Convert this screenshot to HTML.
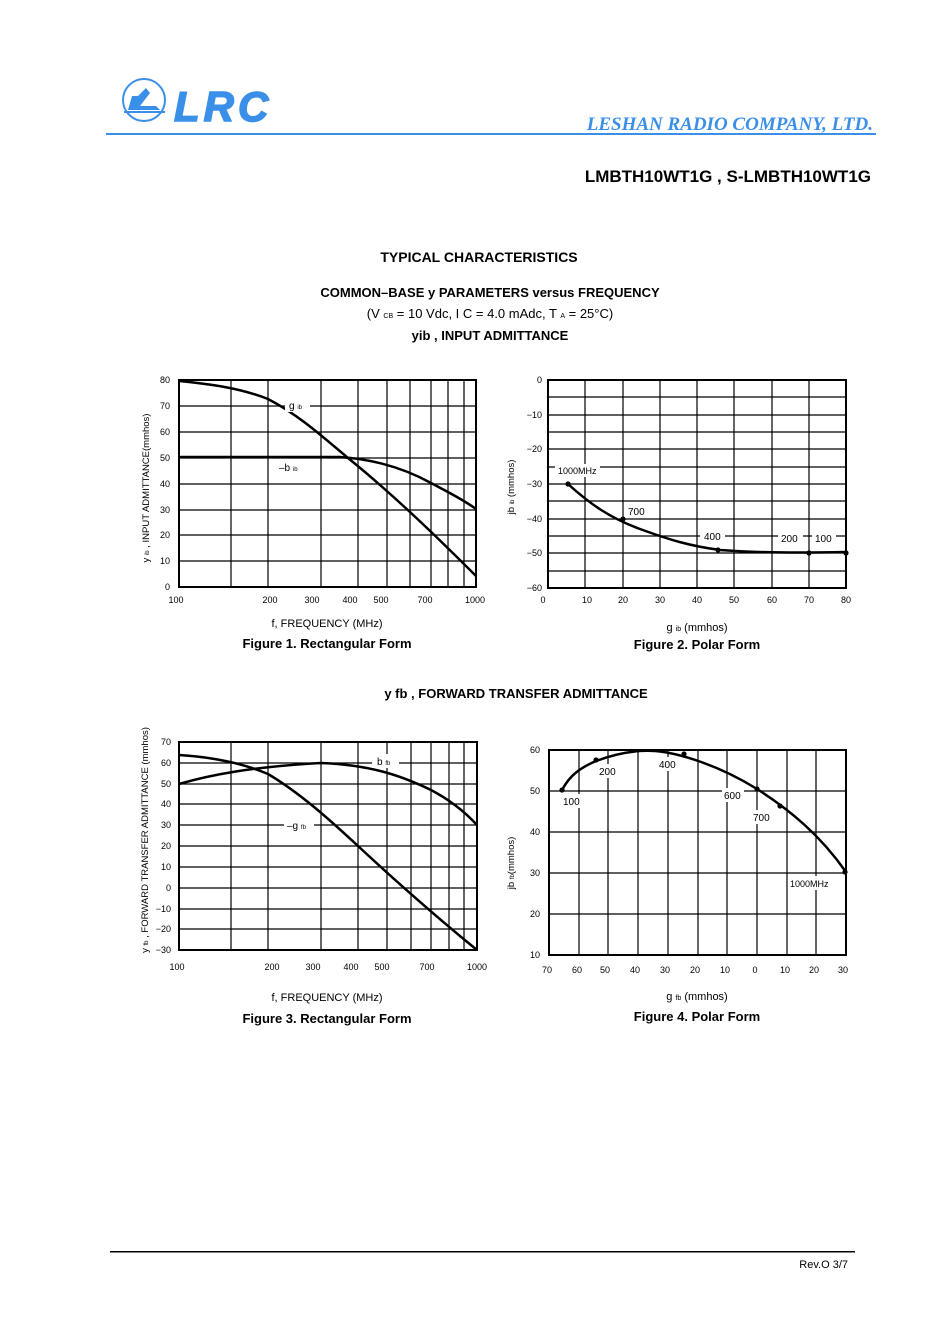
<!DOCTYPE html>
<html><head><meta charset="utf-8"><style>
body{margin:0;background:#fff;}
svg{display:block;font-family:"Liberation Sans",Arial,sans-serif;}
</style></head><body>
<svg width="948" height="1341" viewBox="0 0 948 1341" xmlns="http://www.w3.org/2000/svg">
<!-- header -->
<circle cx="144" cy="100" r="21" fill="none" stroke="#3a8fe8" stroke-width="2"/>
<path d="M128 110 L160 110 L156 106 L140 106 L150 93 L146 88 L138 96 L132 96 Z" fill="#3a8fe8"/>
<path d="M124 112 L165 112" stroke="#3a8fe8" stroke-width="2"/>
<text x="174" y="121" font-size="42" font-weight="bold" font-style="italic" fill="#3a8fe8" letter-spacing="4" stroke="#3a8fe8" stroke-width="1.5">LRC</text>
<rect x="106" y="133" width="770" height="2" fill="#3a8fe8"/>
<text x="873" y="130" font-family="Liberation Serif,serif" font-size="19" font-weight="bold" font-style="italic" fill="#3a8fe8" text-anchor="end">LESHAN RADIO COMPANY, LTD.</text>
<text x="871" y="182" font-size="17" font-weight="bold" text-anchor="end">LMBTH10WT1G , S-LMBTH10WT1G</text>
<text x="479" y="262" font-size="14" font-weight="bold" text-anchor="middle">TYPICAL CHARACTERISTICS</text>
<text x="490" y="297" font-size="13" font-weight="bold" text-anchor="middle">COMMON–BASE y PARAMETERS versus FREQUENCY</text>
<text x="490" y="318" font-size="13" text-anchor="middle">(V <tspan font-size="7">CB</tspan> = 10 Vdc, I C = 4.0 mAdc, T <tspan font-size="7">A</tspan> = 25°C)</text>
<text x="490" y="340" font-size="13" font-weight="bold" text-anchor="middle">yib , INPUT ADMITTANCE</text>
<text x="516" y="698" font-size="13" font-weight="bold" text-anchor="middle">y fb , FORWARD TRANSFER ADMITTANCE</text>

<g stroke="#000" fill="none">
<g stroke-width="1.2">
<path d="M179 406H476M179 432H476M179 458H476M179 484H476M179 510H476M179 535H476M179 561H476"/>
<path d="M231 380V587M268 380V587M321 380V587M358 380V587M387 380V587M410 380V587M431 380V587M448 380V587M464 380V587"/>
</g>
<rect x="179" y="380" width="297" height="207" stroke-width="2"/>
<g stroke-width="1.2">
<path d="M548 397H846M548 415H846M548 432H846M548 449H846M548 467H846M548 484H846M548 501H846M548 519H846M548 536H846M548 553H846M548 571H846"/>
<path d="M585 380V588M623 380V588M660 380V588M697 380V588M734 380V588M772 380V588M809 380V588"/>
</g>
<rect x="548" y="380" width="298" height="208" stroke-width="2"/>
<g stroke-width="1.2">
<path d="M179 763H477M179 784H477M179 804H477M179 825H477M179 846H477M179 867H477M179 888H477M179 909H477M179 929H477"/>
<path d="M231 742V950M268 742V950M321 742V950M358 742V950M387 742V950M411 742V950M431 742V950M449 742V950M464 742V950"/>
</g>
<rect x="179" y="742" width="298" height="208" stroke-width="2"/>
<g stroke-width="1.2">
<path d="M549 791H846M549 832H846M549 873H846M549 914H846"/>
<path d="M579 750V955M608 750V955M638 750V955M668 750V955M698 750V955M727 750V955M757 750V955M787 750V955M816 750V955"/>
</g>
<rect x="549" y="750" width="297" height="205" stroke-width="2"/>

<g stroke-width="2.5">
<path d="M179 381 C210 384 240 388 268 399 C295 413 315 430 348 458 C390 492 430 530 476 576"/>
<path d="M179 457 L340 457 C370 459 400 466 431 483 C450 493 465 501 476 509"/>
<path d="M568 484 C590 504 610 518 640 529 C670 540 690 546 720 550 C760 553 800 553 846 552"/>
<path d="M179 755 C210 757 240 762 268 774 C300 793 330 820 358 846 C400 885 440 920 477 950"/>
<path d="M179 784 C210 775 250 767 321 763 C370 765 400 775 431 790 C450 800 465 812 477 825"/>
<path d="M562 790 C570 775 580 768 596 761 C620 752 640 750 655 751 C680 753 720 766 757 789 C790 810 820 835 846 872"/>
</g>
</g>
<g fill="#000">
<circle cx="568" cy="484" r="2.6"/><circle cx="623" cy="519" r="2.6"/><circle cx="718" cy="550" r="2.6"/><circle cx="809" cy="553" r="2.6"/><circle cx="846" cy="553" r="2.6"/>
<circle cx="562" cy="790" r="2.6"/><circle cx="596" cy="760" r="2.6"/><circle cx="684" cy="754" r="2.6"/><circle cx="757" cy="789" r="2.6"/><circle cx="780" cy="806" r="2.6"/><circle cx="845" cy="872" r="2.6"/>
</g>
<g fill="#fff">
<rect x="285" y="398" width="25" height="14"/><rect x="277" y="460" width="28" height="14"/>
<rect x="555" y="464" width="45" height="13"/><rect x="625" y="505" width="27" height="13"/><rect x="700" y="530" width="25" height="13"/><rect x="778" y="532" width="25" height="13"/><rect x="812" y="532" width="24" height="13"/>
<rect x="372" y="754" width="27" height="14"/><rect x="284" y="818" width="30" height="14"/>
<rect x="596" y="764" width="24" height="14"/><rect x="655" y="757" width="24" height="14"/><rect x="561" y="794" width="22" height="14"/><rect x="722" y="788" width="22" height="14"/><rect x="750" y="810" width="22" height="14"/><rect x="788" y="876" width="48" height="14"/>
</g>
<g font-size="10" fill="#000">
<text x="289" y="409">g <tspan font-size="6">ib</tspan></text>
<text x="279" y="471">–b <tspan font-size="6">ib</tspan></text>
<text x="558" y="474" font-size="9">1000MHz</text>
<text x="628" y="515">700</text><text x="704" y="540">400</text><text x="781" y="542">200</text><text x="815" y="542">100</text>
<text x="377" y="765">b <tspan font-size="6">fb</tspan></text>
<text x="287" y="829">–g <tspan font-size="6">fb</tspan></text>
<text x="599" y="775">200</text><text x="659" y="768">400</text><text x="563" y="805">100</text><text x="724" y="799">600</text><text x="753" y="821">700</text><text x="790" y="887" font-size="9">1000MHz</text>
</g>
<g font-size="9" fill="#000" text-anchor="end">
<text x="170" y="383">80</text><text x="170" y="409">70</text><text x="170" y="435">60</text><text x="170" y="461">50</text><text x="170" y="487">40</text><text x="170" y="513">30</text><text x="170" y="538">20</text><text x="170" y="564">10</text><text x="170" y="590">0</text>
<text x="542" y="383">0</text><text x="542" y="418">−10</text><text x="542" y="452">−20</text><text x="542" y="487">−30</text><text x="542" y="522">−40</text><text x="542" y="556">−50</text><text x="542" y="591">−60</text>
<text x="171" y="745">70</text><text x="171" y="766">60</text><text x="171" y="787">50</text><text x="171" y="807">40</text><text x="171" y="828">30</text><text x="171" y="849">20</text><text x="171" y="870">10</text><text x="171" y="891">0</text><text x="171" y="912">−10</text><text x="171" y="932">−20</text><text x="171" y="953">−30</text>
<text x="540" y="753">60</text><text x="540" y="794">50</text><text x="540" y="835">40</text><text x="540" y="876">30</text><text x="540" y="917">20</text><text x="540" y="958">10</text>
</g>
<g font-size="9" fill="#000" text-anchor="middle">
<text x="176" y="603">100</text><text x="270" y="603">200</text><text x="312" y="603">300</text><text x="350" y="603">400</text><text x="381" y="603">500</text><text x="425" y="603">700</text><text x="475" y="603">1000</text>
<text x="543" y="603">0</text><text x="587" y="603">10</text><text x="623" y="603">20</text><text x="660" y="603">30</text><text x="697" y="603">40</text><text x="734" y="603">50</text><text x="772" y="603">60</text><text x="809" y="603">70</text><text x="846" y="603">80</text>
<text x="177" y="970">100</text><text x="272" y="970">200</text><text x="313" y="970">300</text><text x="351" y="970">400</text><text x="382" y="970">500</text><text x="427" y="970">700</text><text x="477" y="970">1000</text>
<text x="547" y="973">70</text><text x="577" y="973">60</text><text x="605" y="973">50</text><text x="635" y="973">40</text><text x="665" y="973">30</text><text x="695" y="973">20</text><text x="725" y="973">10</text><text x="755" y="973">0</text><text x="785" y="973">10</text><text x="814" y="973">20</text><text x="843" y="973">30</text>
</g>
<g font-size="11" fill="#000" text-anchor="middle">
<text x="327" y="627">f, FREQUENCY (MHz)</text>
<text x="327" y="1001">f, FREQUENCY (MHz)</text>
<text x="697" y="631">g <tspan font-size="7">ib</tspan> (mmhos)</text>
<text x="697" y="1000">g <tspan font-size="7">fb</tspan> (mmhos)</text>
<text transform="translate(149,488) rotate(-90)" font-size="9.5">y <tspan font-size="6">ib</tspan> , INPUT ADMITTANCE(mmhos)</text>
<text transform="translate(514,487) rotate(-90)" font-size="9.5">jb <tspan font-size="6">ib</tspan> (mmhos)</text>
<text transform="translate(148,840) rotate(-90)" font-size="9.5">y <tspan font-size="6">fb</tspan> , FORWARD TRANSFER ADMITTANCE (mmhos)</text>
<text transform="translate(514,863) rotate(-90)" font-size="9.5">jb <tspan font-size="6">fb</tspan>(mmhos)</text>
</g>
<g font-size="13" font-weight="bold" fill="#000" text-anchor="middle">
<text x="327" y="648">Figure 1. Rectangular Form</text>
<text x="697" y="649">Figure 2. Polar Form</text>
<text x="327" y="1023">Figure 3. Rectangular Form</text>
<text x="697" y="1021">Figure 4. Polar Form</text>
</g>
<rect x="110" y="1251" width="745" height="1.5" fill="#000"/>
<text x="848" y="1268" font-size="11" text-anchor="end">Rev.O  3/7</text>
</svg>
</body></html>
